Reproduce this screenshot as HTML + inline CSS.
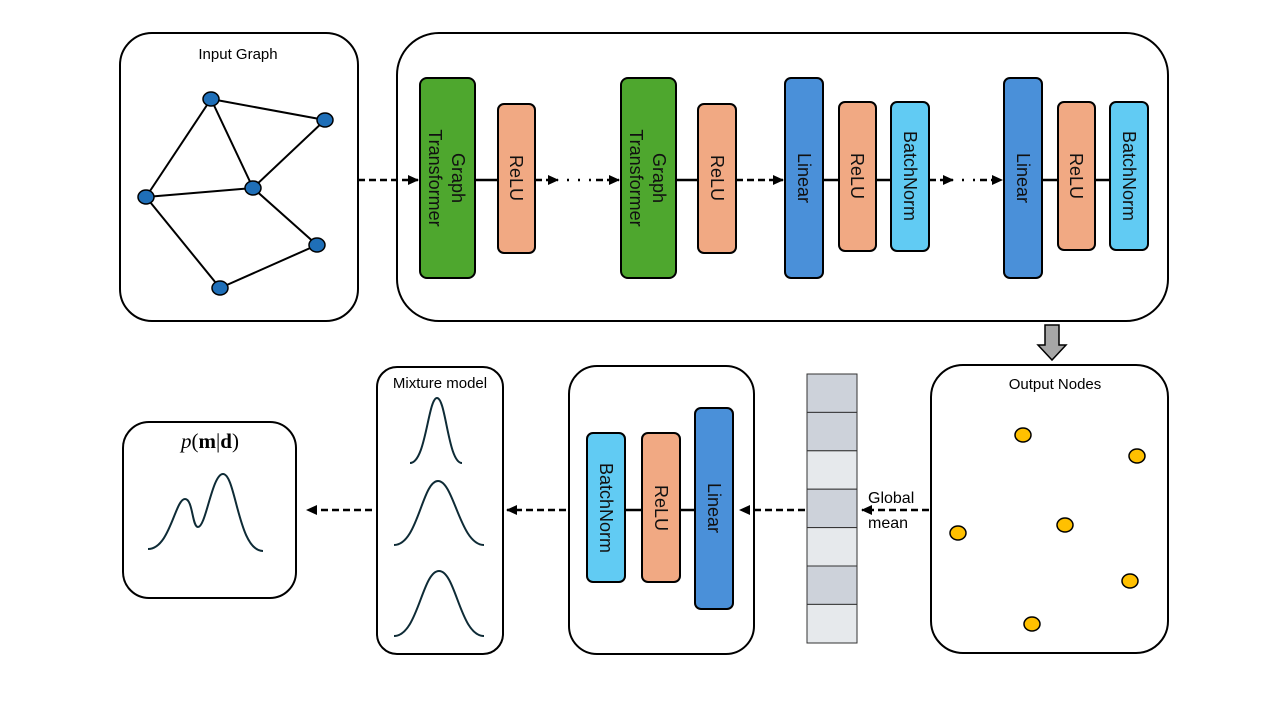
<!DOCTYPE html>
<html><head><meta charset="utf-8"><style>
html,body{margin:0;padding:0;background:#fff}
svg{display:block}
text{font-family:"Liberation Sans","DejaVu Sans",sans-serif}
text.serif{font-family:"Liberation Serif","DejaVu Serif",serif}
</style></head><body>
<svg width="1280" height="720" viewBox="0 0 1280 720" xmlns="http://www.w3.org/2000/svg">
<defs>
<marker id="ah" markerWidth="11" markerHeight="10" refX="10" refY="5" orient="auto" markerUnits="userSpaceOnUse"><path d="M0,0 L11,5 L0,10 Z" fill="#000"/></marker>
</defs>
<g fill="#fff" stroke="#000" stroke-width="2">
<rect x="120" y="33" width="238" height="288" rx="32"/>
<rect x="397" y="33" width="771" height="288" rx="42"/>
<rect x="931" y="365" width="237" height="288" rx="32"/>
<rect x="569" y="366" width="185" height="288" rx="28"/>
<rect x="377" y="367" width="126" height="287" rx="20"/>
<rect x="123" y="422" width="173" height="176" rx="26"/>
</g>
<text x="238" y="59" font-size="15" text-anchor="middle">Input Graph</text>
<text x="1055" y="389" font-size="15" text-anchor="middle">Output Nodes</text>
<text x="440" y="388" font-size="15" text-anchor="middle">Mixture model</text>
<text class="serif" x="210" y="448" font-size="21" text-anchor="middle"><tspan font-style="italic">p</tspan>(<tspan font-weight="bold">m</tspan>|<tspan font-weight="bold">d</tspan>)</text>
<g stroke="#000" stroke-width="2">
<line x1="211" y1="99" x2="146" y2="197"/><line x1="211" y1="99" x2="253" y2="188"/><line x1="211" y1="99" x2="325" y2="120"/>
<line x1="325" y1="120" x2="253" y2="188"/><line x1="146" y1="197" x2="253" y2="188"/><line x1="253" y1="188" x2="317" y2="245"/>
<line x1="146" y1="197" x2="220" y2="288"/><line x1="220" y1="288" x2="317" y2="245"/>
</g>
<g fill="#1f6fb8" stroke="#000" stroke-width="1.5">
<ellipse cx="211" cy="99" rx="8" ry="7"/><ellipse cx="325" cy="120" rx="8" ry="7"/><ellipse cx="146" cy="197" rx="8" ry="7"/>
<ellipse cx="253" cy="188" rx="8" ry="7"/><ellipse cx="317" cy="245" rx="8" ry="7"/><ellipse cx="220" cy="288" rx="8" ry="7"/>
</g>
<g fill="#ffc000" stroke="#000" stroke-width="1.5">
<ellipse cx="1023" cy="435" rx="8" ry="7"/><ellipse cx="1137" cy="456" rx="8" ry="7"/><ellipse cx="958" cy="533" rx="8" ry="7"/>
<ellipse cx="1065" cy="525" rx="8" ry="7"/><ellipse cx="1130" cy="581" rx="8" ry="7"/><ellipse cx="1032" cy="624" rx="8" ry="7"/>
</g>
<g stroke="#000" stroke-width="2.5">
<line x1="358" y1="180" x2="418" y2="180" stroke-dasharray="7,4" marker-end="url(#ah)"/>
<line x1="475" y1="180" x2="498" y2="180"/>
<line x1="535" y1="180" x2="558" y2="180" stroke-dasharray="7,4" marker-end="url(#ah)"/>
<line x1="567" y1="180" x2="596" y2="180" stroke-dasharray="2,9"/>
<line x1="596" y1="180" x2="619" y2="180" stroke-dasharray="7,4" marker-end="url(#ah)"/>
<line x1="676" y1="180" x2="698" y2="180"/>
<line x1="736" y1="180" x2="783" y2="180" stroke-dasharray="7,4" marker-end="url(#ah)"/>
<line x1="823" y1="180" x2="891" y2="180"/>
<line x1="929" y1="180" x2="953" y2="180" stroke-dasharray="7,4" marker-end="url(#ah)"/>
<line x1="962" y1="180" x2="980" y2="180" stroke-dasharray="2,9"/>
<line x1="980" y1="180" x2="1002" y2="180" stroke-dasharray="7,4" marker-end="url(#ah)"/>
<line x1="1042" y1="180" x2="1110" y2="180"/>
<line x1="625" y1="510" x2="695" y2="510"/>
<line x1="929" y1="510" x2="862" y2="510" stroke-dasharray="7,4" marker-end="url(#ah)"/>
<line x1="805" y1="510" x2="740" y2="510" stroke-dasharray="7,4" marker-end="url(#ah)"/>
<line x1="566" y1="510" x2="507" y2="510" stroke-dasharray="7,4" marker-end="url(#ah)"/>
<line x1="372" y1="510" x2="307" y2="510" stroke-dasharray="7,4" marker-end="url(#ah)"/>
</g>
<g stroke="#000" stroke-width="2">
<rect x="420" y="78" width="55" height="200" rx="7" fill="#4ea72e"/>
<rect x="498" y="104" width="37" height="149" rx="6" fill="#f1a983"/>
<rect x="621" y="78" width="55" height="200" rx="7" fill="#4ea72e"/>
<rect x="698" y="104" width="38" height="149" rx="6" fill="#f1a983"/>
<rect x="785" y="78" width="38" height="200" rx="6" fill="#4a90d9"/>
<rect x="839" y="102" width="37" height="149" rx="6" fill="#f1a983"/>
<rect x="891" y="102" width="38" height="149" rx="6" fill="#61cbf3"/>
<rect x="1004" y="78" width="38" height="200" rx="6" fill="#4a90d9"/>
<rect x="1058" y="102" width="37" height="148" rx="6" fill="#f1a983"/>
<rect x="1110" y="102" width="38" height="148" rx="6" fill="#61cbf3"/>
<rect x="695" y="408" width="38" height="201" rx="6" fill="#4a90d9"/>
<rect x="642" y="433" width="38" height="149" rx="6" fill="#f1a983"/>
<rect x="587" y="433" width="38" height="149" rx="6" fill="#61cbf3"/>
</g>
<g font-size="18" text-anchor="middle" fill="#111">
<text transform="translate(447,178) rotate(90)"><tspan x="0" y="-5">Graph</tspan><tspan x="0" y="18">Transformer</tspan></text>
<text transform="translate(648,178) rotate(90)"><tspan x="0" y="-5">Graph</tspan><tspan x="0" y="18">Transformer</tspan></text>
<text transform="translate(516,178) rotate(90)" dy="6">ReLU</text>
<text transform="translate(717,178) rotate(90)" dy="6">ReLU</text>
<text transform="translate(804,178) rotate(90)" dy="6">Linear</text>
<text transform="translate(857,176) rotate(90)" dy="6">ReLU</text>
<text transform="translate(910,176) rotate(90)" dy="6">BatchNorm</text>
<text transform="translate(1023,178) rotate(90)" dy="6">Linear</text>
<text transform="translate(1076,176) rotate(90)" dy="6">ReLU</text>
<text transform="translate(1129,176) rotate(90)" dy="6">BatchNorm</text>
<text transform="translate(714,508) rotate(90)" dy="6">Linear</text>
<text transform="translate(661,508) rotate(90)" dy="6">ReLU</text>
<text transform="translate(606,508) rotate(90)" dy="6">BatchNorm</text>
</g>
<text x="868" y="503" font-size="16">Global</text>
<text x="868" y="528" font-size="16">mean</text>
<g stroke="#333" stroke-width="1">
<rect x="807" y="374" width="50" height="38.4" fill="#cdd2da"/>
<rect x="807" y="412.4" width="50" height="38.4" fill="#cdd2da"/>
<rect x="807" y="450.8" width="50" height="38.4" fill="#e6e9ec"/>
<rect x="807" y="489.2" width="50" height="38.4" fill="#cdd2da"/>
<rect x="807" y="527.6" width="50" height="38.4" fill="#e6e9ec"/>
<rect x="807" y="566" width="50" height="38.4" fill="#cdd2da"/>
<rect x="807" y="604.4" width="50" height="38.6" fill="#e6e9ec"/>
</g>
<path d="M1045,325 H1059 V345 H1066 L1052,360 L1038,345 H1045 Z" fill="#a6a6a6" stroke="#000" stroke-width="1.5"/>
<g fill="none" stroke="#0e2b36" stroke-width="2">
<path d="M410,463 C426,463 428,398 437,398 C446,398 448,463 462,463"/>
<path d="M394,545 C418,545 422,481 438,481 C454,481 460,545 484,545"/>
<path d="M394,636 C418,636 422,571 439,571 C456,571 460,636 484,636"/>
<path d="M148,549 C170,549 175,499 185,499 C193,499 192,527 198,527 C206,527 212,474 223,474 C236,474 238,551 263,551"/>
</g>
</svg>
</body></html>
